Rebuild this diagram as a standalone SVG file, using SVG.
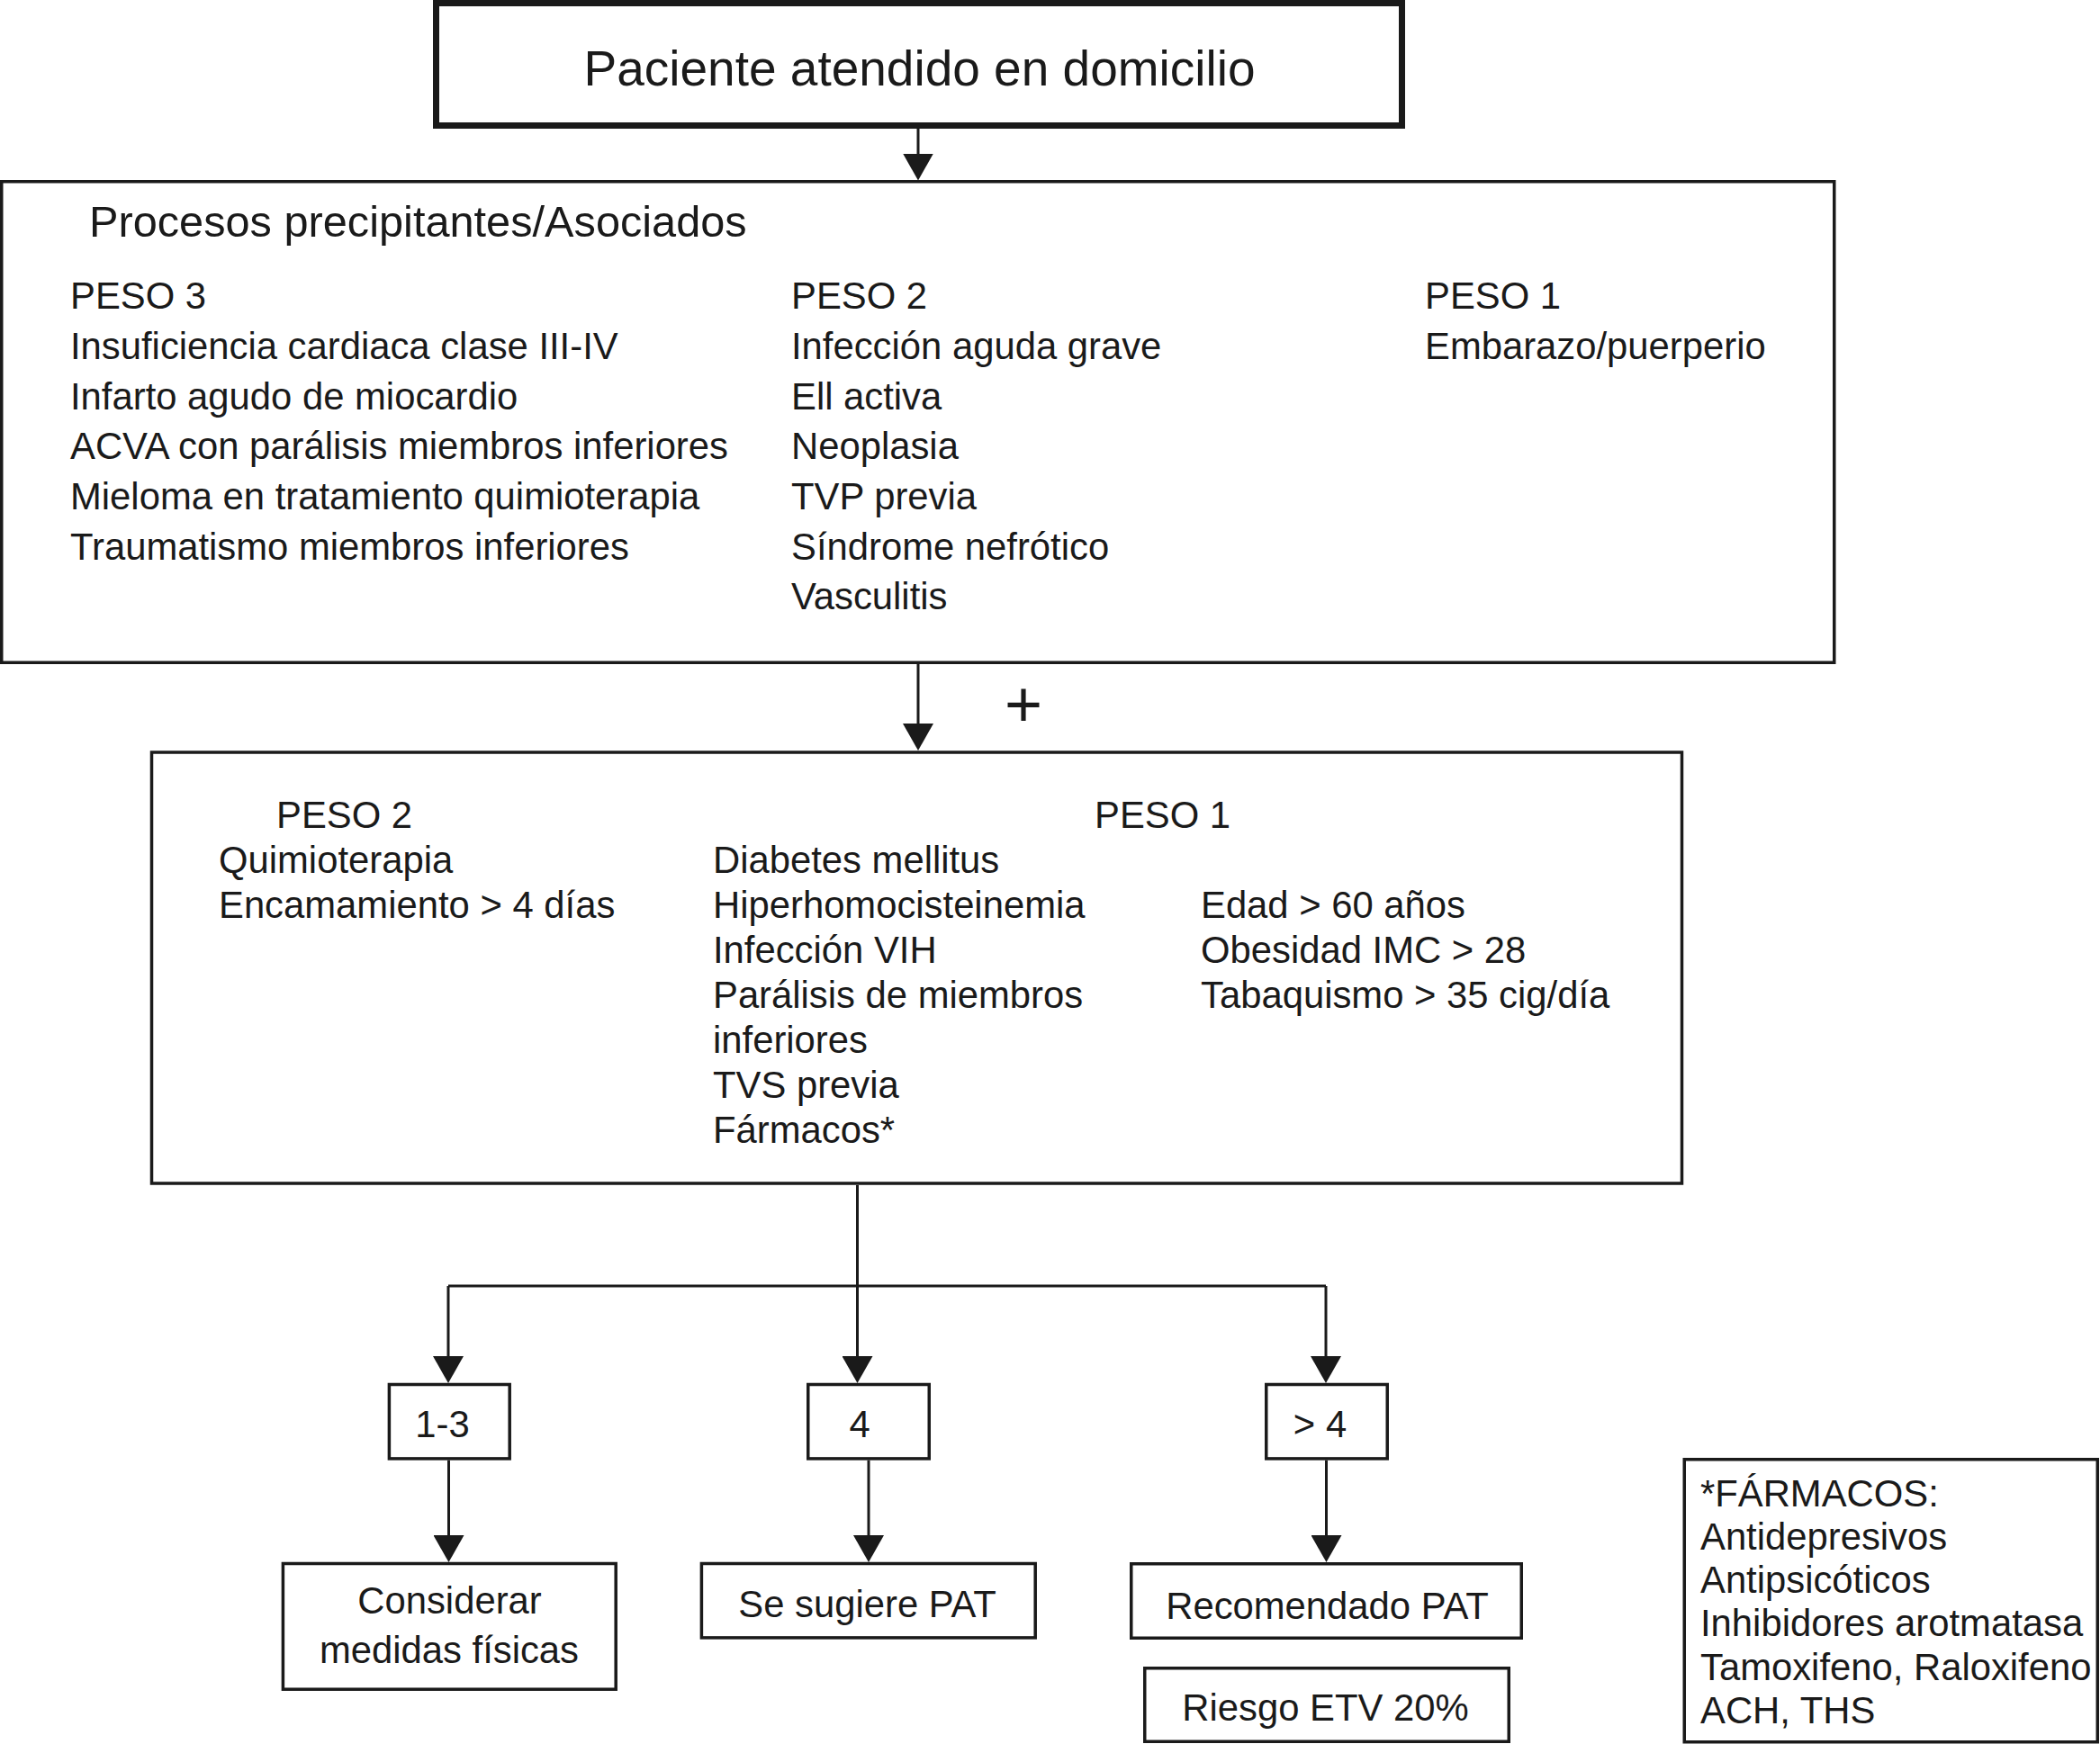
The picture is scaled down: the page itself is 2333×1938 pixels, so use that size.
<svg xmlns="http://www.w3.org/2000/svg" width="2333" height="1938" viewBox="0 0 2333 1938">
<defs>
<style>
.box{fill:#fff;stroke:#1a1a1a;stroke-width:3.5}
.thick{stroke-width:7}
.t{font-family:"Liberation Sans",Arial,Helvetica,sans-serif;font-size:41.8px;fill:#1a1a1a}
.c{text-anchor:middle}
.con{fill:none;stroke:#1a1a1a;stroke-width:3}
</style>
<marker id="ah" markerUnits="userSpaceOnUse" viewBox="0 0 30 34" refX="26" refY="17" markerWidth="30" markerHeight="34" orient="auto">
<path d="M0,0 L30,17 L0,34 z" fill="#1a1a1a"/>
</marker>
</defs>
<rect width="2333" height="1938" fill="#fff"/>

<g id="connectors">
<path class="con" d="M1020,143 V196.5" marker-end="url(#ah)"/>
<path class="con" d="M1020,738 V830" marker-end="url(#ah)"/>
<path class="con" d="M952.5,1317 V1429"/>
<path class="con" d="M498,1429 H1473"/>
<path class="con" d="M498,1429 V1533" marker-end="url(#ah)"/>
<path class="con" d="M952.5,1429 V1533" marker-end="url(#ah)"/>
<path class="con" d="M1473,1429 V1533" marker-end="url(#ah)"/>
<path class="con" d="M498.5,1622.7 V1732" marker-end="url(#ah)"/>
<path class="con" d="M965,1622.7 V1732" marker-end="url(#ah)"/>
<path class="con" d="M1473.5,1622.7 V1732" marker-end="url(#ah)"/>
<text class="t c" x="1137" y="807" style="font-size:72px">+</text>
</g>

<g id="node-paciente">
<rect class="box thick" x="484.5" y="3.5" width="1073" height="136"/>
<text class="t c" x="1021.5" y="95" style="font-size:55px">Paciente atendido en domicilio</text>
</g>

<g id="node-procesos">
<rect class="box" x="1.75" y="201.75" width="2036" height="534.5"/>
<text class="t" x="99" y="263" style="font-size:48.7px">Procesos precipitantes/Asociados</text>
<text class="t" x="78" y="343">PESO 3</text>
<text class="t" x="78" y="399">Insuficiencia cardiaca clase III-IV</text>
<text class="t" x="78" y="455">Infarto agudo de miocardio</text>
<text class="t" x="78" y="510">ACVA con parálisis miembros inferiores</text>
<text class="t" x="78" y="566">Mieloma en tratamiento quimioterapia</text>
<text class="t" x="78" y="621.5">Traumatismo miembros inferiores</text>
<text class="t" x="879" y="343">PESO 2</text>
<text class="t" x="879" y="399">Infección aguda grave</text>
<text class="t" x="879" y="455">Ell activa</text>
<text class="t" x="879" y="510">Neoplasia</text>
<text class="t" x="879" y="566">TVP previa</text>
<text class="t" x="879" y="621.5">Síndrome nefrótico</text>
<text class="t" x="879" y="677">Vasculitis</text>
<text class="t" x="1583" y="343">PESO 1</text>
<text class="t" x="1583" y="399">Embarazo/puerperio</text>
</g>

<g id="node-factores">
<rect class="box" x="168.5" y="836" width="1700" height="479"/>
<text class="t" x="307" y="920">PESO 2</text>
<text class="t" x="1216" y="920">PESO 1</text>
<text class="t" x="243" y="970">Quimioterapia</text>
<text class="t" x="243" y="1020">Encamamiento &gt; 4 días</text>
<text class="t" x="792" y="970">Diabetes mellitus</text>
<text class="t" x="792" y="1020">Hiperhomocisteinemia</text>
<text class="t" x="792" y="1070">Infección VIH</text>
<text class="t" x="792" y="1120">Parálisis de miembros</text>
<text class="t" x="792" y="1170">inferiores</text>
<text class="t" x="792" y="1220">TVS previa</text>
<text class="t" x="792" y="1270">Fármacos*</text>
<text class="t" x="1334" y="1020">Edad &gt; 60 años</text>
<text class="t" x="1334" y="1070">Obesidad IMC &gt; 28</text>
<text class="t" x="1334" y="1120">Tabaquismo &gt; 35 cig/día</text>
</g>

<g id="node-1-3">
<rect class="box" x="432.4" y="1538.5" width="133.8" height="82.4"/>
<text class="t c" x="491.5" y="1597">1-3</text>
</g>
<g id="node-4">
<rect class="box" x="897.75" y="1538.5" width="134.5" height="82.4"/>
<text class="t c" x="955" y="1597">4</text>
</g>
<g id="node-mas4">
<rect class="box" x="1406.75" y="1538.5" width="134.5" height="82.4"/>
<text class="t c" x="1466.5" y="1597">&gt; 4</text>
</g>

<g id="node-considerar">
<rect class="box" x="314.4" y="1737.5" width="369.8" height="139.7"/>
<text class="t c" x="499.5" y="1793">Considerar</text>
<text class="t c" x="499" y="1848">medidas físicas</text>
</g>
<g id="node-sugiere">
<rect class="box" x="779.4" y="1737.5" width="370.8" height="82.4"/>
<text class="t c" x="963.6" y="1797">Se sugiere PAT</text>
</g>
<g id="node-recomendado">
<rect class="box" x="1256.75" y="1737.75" width="433.5" height="82.5"/>
<text class="t c" x="1474.5" y="1799">Recomendado PAT</text>
</g>
<g id="node-riesgo">
<rect class="box" x="1271.75" y="1853.75" width="404.5" height="81.5"/>
<text class="t c" x="1472.5" y="1912">Riesgo ETV 20%</text>
</g>

<g id="node-farmacos">
<rect class="box" x="1871.25" y="1621.75" width="459" height="314"/>
<text class="t" x="1889" y="1674">*FÁRMACOS:</text>
<text class="t" x="1889" y="1722">Antidepresivos</text>
<text class="t" x="1889" y="1770">Antipsicóticos</text>
<text class="t" x="1889" y="1818">Inhibidores arotmatasa</text>
<text class="t" x="1889" y="1867">Tamoxifeno, Raloxifeno</text>
<text class="t" x="1889" y="1915">ACH, THS</text>
</g>
</svg>
